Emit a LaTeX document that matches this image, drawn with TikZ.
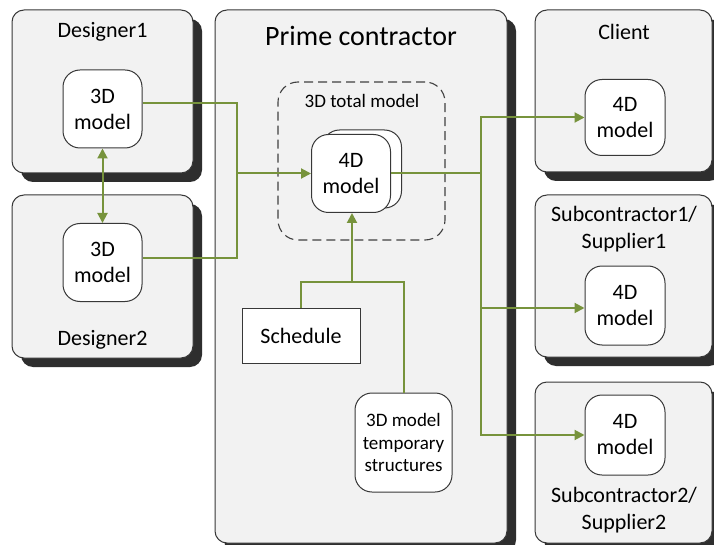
\documentclass[tikz,border=0pt]{standalone}
\usepackage{fontspec}
\setmainfont{Carlito}
\usetikzlibrary{arrows.meta,shadows}
\definecolor{boxgray}{HTML}{F2F2F2}
\definecolor{edgegray}{HTML}{383838}
\definecolor{shadowgray}{HTML}{2E2E2E}
\definecolor{dashgray}{HTML}{404040}
\definecolor{flowgreen}{HTML}{77933C}

\begin{document}
\begin{tikzpicture}[x=1pt,y=-1pt,
	party/.style={draw=edgegray, fill=boxgray, line width=1pt, rounded corners=12pt, inner sep=0pt,
		drop shadow={shadow xshift=9pt, shadow yshift=-9pt, opacity=1, fill=shadowgray}},
	model/.style={draw=edgegray, fill=white, line width=1pt, rounded corners=17pt, align=center,
		minimum width=79pt, minimum height=78pt, inner sep=0pt, font=\fontsize{22}{26}\selectfont},
	tag/.style={font=\fontsize{22}{27}\selectfont, align=center},
	flow/.style={draw=flowgreen, line width=2pt},
	flowarrow/.style={flow, -{Triangle[length=10pt,width=10pt]}}]
			\path[use as bounding box, fill=white] (0,0) rectangle (714,545);
			% Designer panels
			\node[party, minimum width=181pt, minimum height=163pt] (des1) at (102.5,91.5) {};
			\node[tag] (des1t) at (102.5,32) {Designer1};
			\node[model] (d1m) at (102.5,109) {3D\\model};
			\node[party, minimum width=181pt, minimum height=163pt] (des2) at (102.5,276.5) {};
			\node[tag] (des2t) at (102.5,340) {Designer2};
			\node[model] (d2m) at (102.5,262.5) {3D\\model};
			% Prime contractor panel
			\node[party, minimum width=292pt, minimum height=533pt] (prime) at (361,276.5) {};
			\node[font=\fontsize{28}{32}\selectfont] (primet) at (361,36) {Prime contractor};
			\node[draw=dashgray, line width=1.1pt, dash pattern=on 9pt off 5pt, rounded corners=20pt,
				minimum width=167pt, minimum height=158pt] (total) at (361.5,161) {};
			\node[font=\fontsize{19}{22}\selectfont] (totalt) at (362,101) {3D total model};
			\node[model] (fmback) at (362,169) {};
			\node[model] (fm) at (351,173.5) {4D\\model};
			\node[draw=edgegray, fill=white, line width=1pt, minimum width=118pt, minimum height=55pt,
				font=\fontsize{22}{26}\selectfont] (sched) at (301,335.5) {Schedule};
			\node[model, minimum width=97pt, minimum height=99pt, font=\fontsize{19}{22.3}\selectfont]
				(temp) at (403.5,442.5) {3D model\\temporary\\structures};
			% Client and subcontractor panels
			\node[party, minimum width=177pt, minimum height=162pt] (client) at (623.5,91) {};
			\node[tag] (clientt) at (624,32) {Client};
			\node[model, minimum width=80pt, minimum height=76pt] (cm) at (625,117.5) {4D\\model};
			\node[party, minimum width=177pt, minimum height=162pt] (sub1) at (623.5,276) {};
			\node[tag] (sub1t) at (624,229.5) {Subcontractor1/\\Supplier1};
			\node[model, minimum width=80pt, minimum height=79pt] (s1m) at (625,305.5) {4D\\model};
			\node[party, minimum width=177pt, minimum height=161pt] (sub2) at (623.5,462.5) {};
			\node[tag] (sub2t) at (624,510) {Subcontractor2/\\Supplier2};
			\node[model, minimum width=80pt, minimum height=80pt] (s2m) at (625,435) {4D\\model};
			% Flows
			\coordinate (j1) at (237,173.5);
			\coordinate (j2) at (481,173.5);
			\coordinate (j3) at (352,282);
			\draw[flow, {Triangle[length=10pt,width=10pt]}-{Triangle[length=10pt,width=10pt]}] (d1m) -- (d2m);
			\draw[flow] ([yshift=6pt]d1m.east) -| (j1) |- ([yshift=5pt]d2m.east);
			\draw[flowarrow] (j1) -- (fm.west);
			\draw[flow] (fm.east) -- (j2);
			\draw[flowarrow] (j2) |- (cm.west);
			\draw[flowarrow] (j2) |- (s2m.west);
			\draw[flowarrow] ([yshift=-2.5pt]s1m.west -| j2) -- ([yshift=-2.5pt]s1m.west);
			\draw[flow] (sched.north) |- (j3) -| (temp.north);
			\draw[flowarrow] (j3) -- (fm.south -| j3);
		\end{tikzpicture}
\end{document}
